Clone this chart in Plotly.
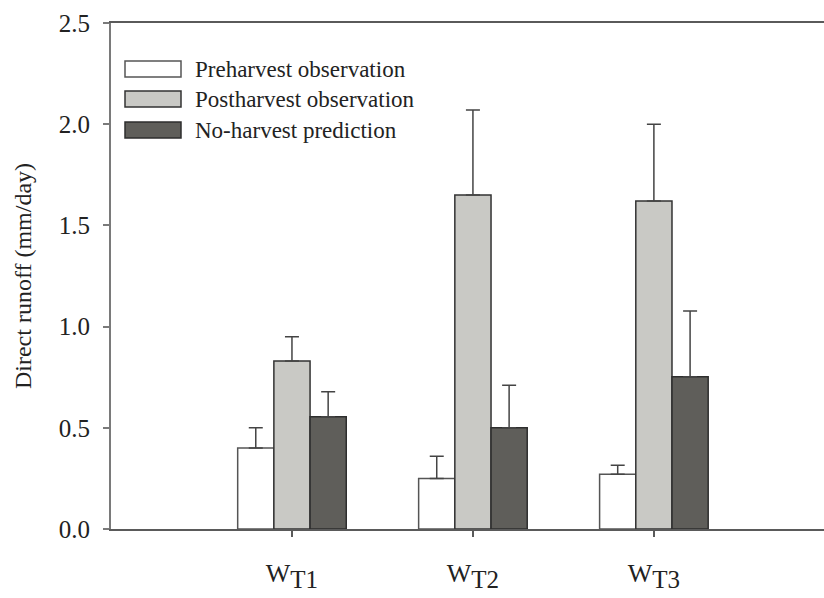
import plotly.graph_objects as go

categories = ["W<sub><span style='font-size:25px'>T1</span></sub>",
              "W<sub><span style='font-size:25px'>T2</span></sub>",
              "W<sub><span style='font-size:25px'>T3</span></sub>"]
series_names = ["Preharvest observation", "Postharvest observation", "No-harvest prediction"]
pre_vals = [0.40, 0.25, 0.27]
pre_err = [0.10, 0.11, 0.045]
post_vals = [0.83, 1.65, 1.62]
post_err = [0.12, 0.42, 0.38]
nohar_vals = [0.555, 0.50, 0.752]
nohar_err = [0.123, 0.21, 0.325]
y_ticks = [0.0, 0.5, 1.0, 1.5, 2.0, 2.5]

fills = ["#ffffff", "#c9c9c5", "#5f5e5a"]
outlines = ["#555555", "#333333", "#2e2e2e"]
FONT = "Liberation Serif, Times New Roman, serif"

xpos = [1, 2, 3]
fig = go.Figure()
for name, vals, errs, fc, lc in zip(series_names, [pre_vals, post_vals, nohar_vals],
                                    [pre_err, post_err, nohar_err], fills, outlines):
    fig.add_trace(go.Bar(
        x=xpos, y=vals, name=name,
        marker=dict(color=fc, line=dict(color=lc, width=1.5)),
        error_y=dict(type="data", array=errs, symmetric=False, arrayminus=[0]*len(errs),
                     color="#444444", thickness=1.5, width=7),
        showlegend=False,
    ))

W, H = 824, 598
L, R, T, B = 111, 0, 23, 69
pw, ph = W - L - R, H - T - B

# manual legend (large boxes as in the reference)
leg_rows = [(61, 77), (91, 107), (122, 138)]
for (top, bot), fc, lc, name in zip(leg_rows, fills, outlines, series_names):
    fig.add_shape(type="rect", xref="paper", yref="paper",
                  x0=(125 - L) / pw, x1=(181 - L) / pw,
                  y0=(H - B - bot) / ph, y1=(H - B - top) / ph,
                  fillcolor=fc, line=dict(color=lc, width=1.5))
    fig.add_annotation(xref="paper", yref="paper", x=(193 - L) / pw,
                       y=(H - B - (top + bot) / 2) / ph, text=name, showarrow=False,
                       xanchor="left", yanchor="middle",
                       font=dict(family=FONT, size=23, color="#222222"))

fig.update_layout(
    width=W, height=H,
    margin=dict(l=L, r=R, t=T, b=B, pad=0),
    plot_bgcolor="white", paper_bgcolor="white",
    barmode="group", bargap=0.4, bargroupgap=0,
    font=dict(family=FONT, color="#222222"),
    xaxis=dict(range=[0, 3.94], tickvals=xpos, ticktext=categories,
               showline=True, linecolor="#5a5a5a", linewidth=2, mirror=True,
               ticks="outside", ticklen=6, tickcolor="#5a5a5a", tickwidth=1.5,
               showgrid=False, zeroline=False, ticklabelstandoff=14,
               tickfont=dict(family=FONT, size=26, color="#222222")),
    yaxis=dict(range=[0, 2.5], tickvals=y_ticks, tickformat=".1f",
               showline=True, linecolor="#7a7a7a", linewidth=2,
               ticks="outside", ticklen=6, tickcolor="#7a7a7a", tickwidth=1.5,
               showgrid=False, zeroline=False, ticklabelstandoff=8,
               tickfont=dict(family=FONT, size=25, color="#222222"),
               title=dict(text="Direct runoff (mm/day)", standoff=20,
                          font=dict(family=FONT, size=24, color="#222222"))),
)

fig.write_html("out.html")
